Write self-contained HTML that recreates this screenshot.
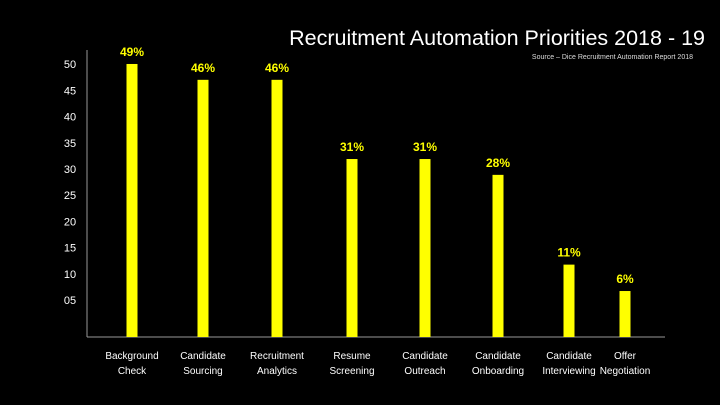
<!DOCTYPE html>
<html><head><meta charset="utf-8"><style>
body{margin:0;background:#000;width:720px;height:405px;overflow:hidden}
svg{display:block}
text{font-family:"Liberation Sans",sans-serif}
</style></head><body>
<svg id="chart" width="720" height="405" viewBox="0 0 720 405">
<rect width="720" height="405" fill="#000"/>
<text x="705" y="45" text-anchor="end" fill="#fff" font-size="21.5">Recruitment Automation Priorities 2018 - 19</text>
<text x="693" y="59" text-anchor="end" fill="#ddd" font-size="7">Source – Dice Recruitment Automation Report 2018</text>
<line x1="87" y1="50" x2="87" y2="337" stroke="#999" stroke-width="1"/>
<line x1="87" y1="337" x2="665" y2="337" stroke="#999" stroke-width="1"/>
<g id="ticks"></g><g id="bars"></g>
</svg>
<script>
const categories=[["Background","Check"],["Candidate","Sourcing"],["Recruitment","Analytics"],["Resume","Screening"],["Candidate","Outreach"],["Candidate","Onboarding"],["Candidate","Interviewing"],["Offer","Negotiation"]];
const values=[49,46,46,31,31,28,11,6];
const tickValues=[50,45,40,35,30,25,20,15,10,5];
const tickLabels=["50","45","40","35","30","25","20","15","10","05"];
const NS="http://www.w3.org/2000/svg";
const centers=[132,203,277,352,425,498,569,625];
function xScale(i){return centers[i];}
function yScale(v){return 337-14.3-5.28*v;}
function tickY(t){return 300-(t-5)*26.2/5;}
function mk(tag,attrs,parent,txt){const e=document.createElementNS(NS,tag);for(const k in attrs)e.setAttribute(k,attrs[k]);if(txt!==undefined)e.textContent=txt;parent.appendChild(e);return e;}
const tg=document.getElementById('ticks');
tickValues.forEach((t,i)=>{
  const e=mk('text',{x:70,y:tickY(t)+4,'text-anchor':'middle',fill:'#fff','font-size':'11'},tg,tickLabels[i]);
  
  
});
const bg=document.getElementById('bars');
values.forEach((v,i)=>{
  const cx=xScale(i),top=yScale(v);
  const r=mk('rect',{x:cx-5.5,y:top,width:11,height:337-top,fill:'#ffff00'},bg);
  
  
  const l=mk('text',{x:cx,y:top-8,'text-anchor':'middle',fill:'#ffff00','font-size':'12','font-weight':'bold'},bg,v+'%');
  
  
  const c=mk('text',{'text-anchor':'middle',fill:'#fff','font-size':'10'},bg);
  
  
  categories[i].forEach((ln,j)=>mk('tspan',{x:cx,y:359+j*15},c,ln));
});
</script>
</body></html>
